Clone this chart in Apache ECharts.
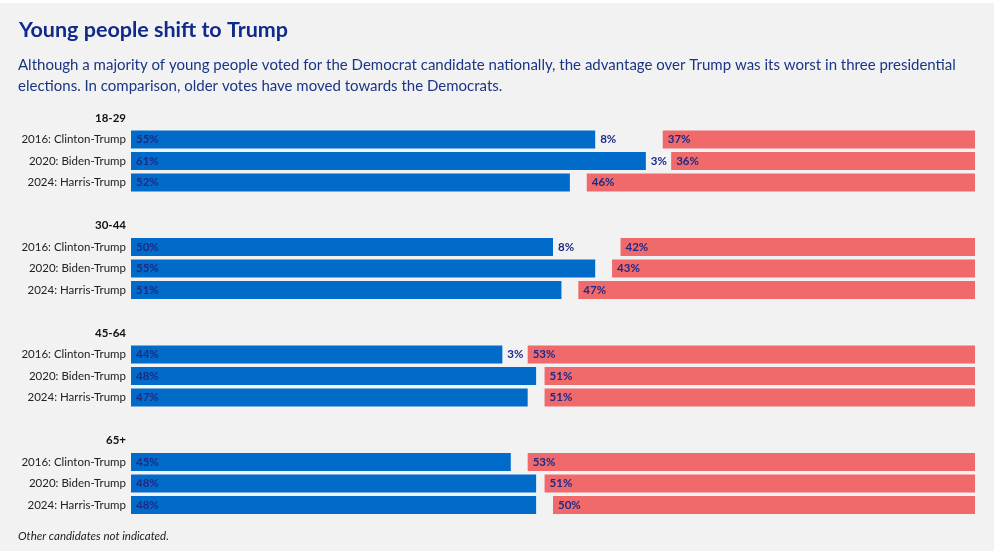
<!DOCTYPE html>
<html><head><meta charset="utf-8">
<script src="https://cdn.jsdelivr.net/npm/echarts@6/dist/echarts.min.js"></script>
<style>
html,body{margin:0;padding:0;background:#fff;}
#c{position:absolute;left:0;top:3px;width:994px;height:548px;background:#f3f2f3;}
</style></head><body>
<div id="c"></div>
<script>
const groups = ['18-29','30-44','45-64','65+'];
const elections = ['2016: Clinton-Trump','2020: Biden-Trump','2024: Harris-Trump'];
const dem = [55,61,52, 50,55,51, 44,48,47, 45,48,48];
const rep = [37,36,46, 42,43,47, 53,51,51, 53,51,50];

const cats = [], demData = [], othData = [], repData = [];
groups.forEach((g, gi) => {
  cats.push('H:' + g); demData.push('-'); othData.push('-'); repData.push('-');
  elections.forEach((e, ei) => {
    const i = gi * 3 + ei;
    cats.push(e + '#' + gi);
    demData.push(dem[i]);
    othData.push(100 - dem[i] - rep[i]);
    repData.push(rep[i]);
  });
  if (gi < groups.length - 1) { cats.push('B' + gi); demData.push('-'); othData.push('-'); repData.push('-'); }
});

const labFont = {fontFamily:'Lato', fontSize:11.5, fontWeight:'bold', color:'#1e2a86'};
const chart = echarts.init(document.getElementById('c'), null, {renderer:'canvas'});
chart.setOption({
  backgroundColor:'#f3f2f3',
  animation:false,
  title:[
    {text:'Young people shift to Trump', left:19, top:16, padding:0,
     textStyle:{fontFamily:'Lato', fontSize:21.5, fontWeight:'bold', color:'#0f2a8a'}},
    {text:'Although a majority of young people voted for the Democrat candidate nationally, the advantage over Trump was its worst in three presidential\nelections. In comparison, older votes have moved towards the Democrats.',
     left:18, top:52, padding:0, textStyle:{fontFamily:'Lato', fontSize:15, fontWeight:'normal', color:'#1b3585', lineHeight:21}},
    {text:'Other candidates not indicated.', left:18, top:527, padding:0,
     textStyle:{fontFamily:'Lato', fontSize:11.5, fontStyle:'italic', fontWeight:'normal', color:'#222'}}
  ],
  grid:{left:131, right:19, top:104.25, height:408.5, containLabel:false},
  xAxis:{type:'value', min:0, max:100, show:false},
  yAxis:{type:'category', data:cats, inverse:true,
    axisLine:{show:false}, axisTick:{show:false}, splitLine:{show:false},
    axisLabel:{margin:5, interval:0,
      formatter:function(v){
        if (v.indexOf('H:') === 0) return '{h|' + v.slice(2) + '}';
        if (v.charAt(0) === 'B') return '';
        return '{n|' + v.split('#')[0] + '}';
      },
      rich:{
        h:{fontFamily:'Lato', fontSize:11.5, fontWeight:'bold', color:'#111'},
        n:{fontFamily:'Lato', fontSize:11.5, color:'#222'}
      }
    }
  },
  series:[
    {name:'Democrat', type:'bar', stack:'t', data:demData, barWidth:18,
     itemStyle:{color:'#006bc9'},
     label:{show:true, position:'insideLeft', distance:5, formatter:'{c}%', ...labFont}},
    {name:'Other', type:'bar', stack:'t', data:othData, barWidth:18,
     itemStyle:{color:'rgba(0,0,0,0)'},
     label:{show:true, position:'insideLeft', distance:5,
       formatter:function(p){ return p.value >= 3 ? p.value + '%' : ''; }, ...labFont}},
    {name:'Republican', type:'bar', stack:'t', data:repData, barWidth:18,
     itemStyle:{color:'#f06a6c'},
     label:{show:true, position:'insideLeft', distance:5, formatter:'{c}%', ...labFont}}
  ]
});
</script>
</body></html>
